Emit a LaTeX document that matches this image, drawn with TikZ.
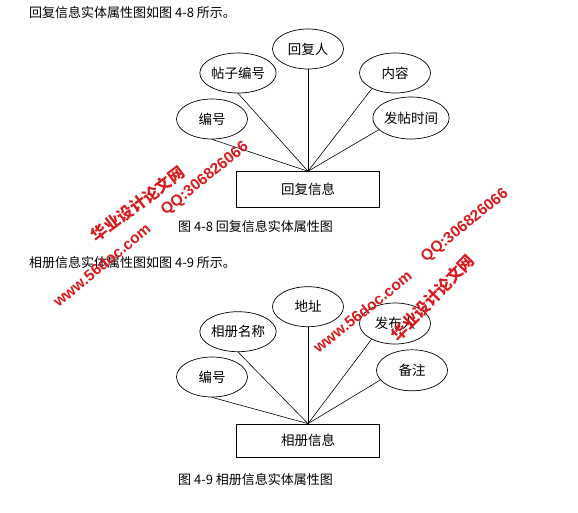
\documentclass[tikz,border=0pt]{standalone}
\usepackage{fontspec}
\setmainfont{Noto Sans CJK SC}
\newfontfamily\wmlatin{Liberation Sans}
\usetikzlibrary{shapes.geometric}
\definecolor{wmred}{RGB}{214,28,32}
\tikzset{
  attr/.style={draw, ellipse, line width=0.7pt, inner sep=0pt, minimum width=71pt, minimum height=40pt, font=\fontsize{13.5}{14}\selectfont},
  ent/.style={draw, rectangle, line width=0.8pt, inner sep=0pt, minimum width=142.7pt, font=\fontsize{13.5}{14}\selectfont},
  conn/.style={line width=0.6pt},
  body/.style={anchor=west, inner sep=0pt, font=\fontsize{13}{13}\selectfont},
  wmcjk/.style={text=wmred, inner sep=0pt, font=\fontsize{16}{16}\selectfont\bfseries},
  wmlat/.style={text=wmred, inner sep=0pt, font=\wmlatin\fontsize{15.5}{16}\selectfont\bfseries}
}
\begin{document}
\begin{tikzpicture}[x=1pt, y=-1pt]
\useasboundingbox (0,0) rectangle (578,512);
\fill[white] (0,0) rectangle (578,512);

% texts
\node[body] (t1) at (29,12.5) {回复信息实体属性图如图 4-8 所示。};
\node[body] (c1) at (178,227) {图 4-8 回复信息实体属性图};
\node[body] (t2) at (29,262.3) {相册信息实体属性图如图 4-9 所示。};
\node[body] (c2) at (178,480) {图 4-9 相册信息实体属性图};

% top diagram
\node[attr] (e1) at (212,119) {编号};
\node[attr] (e2) at (238,73) {帖子编号};
\node[attr] (e3) at (308,49) {回复人};
\node[attr] (e4) at (395,73) {内容};
\node[attr, minimum width=74pt, minimum height=42pt] (e5) at (411,118) {发帖时间};
\node[ent, minimum height=35.7pt] (b1) at (308,189.5) {回复信息};
\draw[conn] (e1.south) -- (b1.north);
\draw[conn] (e2.south) -- (b1.north);
\draw[conn] (e3.south) -- (b1.north);
\draw[conn] (e4.-146) -- (b1.north);
\draw[conn] (e5.-160) -- (b1.north);

% bottom diagram
\node[attr] (f1) at (212,377) {编号};
\node[attr] (f2) at (238,331.7) {相册名称};
\node[attr] (f3) at (308,306.7) {地址};
\node[attr, minimum height=41pt] (f4) at (395,323.5) {发布人};
\node[attr, minimum height=41pt] (f5) at (412,370.3) {备注};
\node[ent, minimum height=33.3pt] (b2) at (308,440.7) {相册信息};
\draw[conn] (f1.south) -- (b2.north);
\draw[conn] (f2.south) -- (b2.north);
\draw[conn] (f3.south) -- (b2.north);
\draw[conn] (f4.-146) -- (b2.north);
\draw[conn] (f5.-163) -- (b2.north);

% watermarks
\node[wmcjk, rotate=37] (w1) at (138,204) {华业设计论文网};
\node[wmlat, rotate=39] (w2) at (205,179) {QQ:306826066};
\node[wmlat, rotate=39.5] (w3) at (101.7,265) {www.56doc.com};
\node[wmlat, rotate=38.5] (w4) at (362.5,311.7) {www.56doc.com};
\node[wmcjk, rotate=46] (w5) at (432.5,297.5) {华业设计论文网};
\node[wmlat, rotate=39] (w6) at (465,225.8) {QQ:306826066};
\end{tikzpicture}
\end{document}
